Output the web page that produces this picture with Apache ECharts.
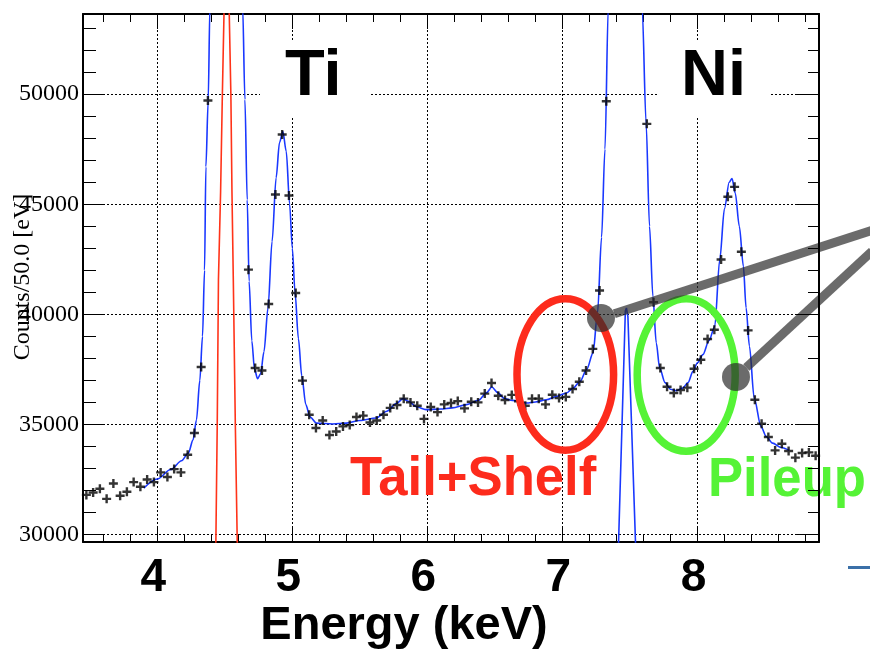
<!DOCTYPE html>
<html><head><meta charset="utf-8">
<script src="https://cdn.jsdelivr.net/npm/echarts@6/dist/echarts.min.js"></script>
<style>html,body{margin:0;padding:0;background:#fff}#c{width:870px;height:650px}</style>
</head><body><div id="c"></div>
<script>
// ---- data: 50 eV histogram bins ----
const energies = [
  3.475,3.525,3.575,3.625,3.675,3.725,3.775,3.825,3.875,3.925,3.975,
  4.025,4.075,4.125,4.175,4.225,4.275,4.325,4.375,4.425,4.475,4.525,4.575,4.625,4.675,4.725,4.775,4.825,4.875,4.925,4.975,
  5.025,5.075,5.125,5.175,5.225,5.275,5.325,5.375,5.425,5.475,5.525,5.575,5.625,5.675,5.725,5.775,5.825,5.875,5.925,5.975,
  6.025,6.075,6.125,6.175,6.225,6.275,6.325,6.375,6.425,6.475,6.525,6.575,6.625,6.675,6.725,6.775,6.825,6.875,6.925,6.975,
  7.025,7.075,7.125,7.175,7.225,7.275,7.325,7.375,7.425,7.475,7.525,7.575,7.625,7.675,7.725,7.775,7.825,7.875,7.925,7.975,
  8.025,8.075,8.125,8.175,8.225,8.275,8.325,8.375,8.425,8.475,8.525,8.575,8.625,8.675,8.725,8.775,8.825,8.875
];
const counts = [
  31800,31910,32080,31620,32320,31760,31940,32380,32170,32500,32380,
  32820,32610,32970,32820,33620,34610,37610,49710,76000,128000,152000,112000,61000,42030,37560,37450,40470,45440,48170,45400,
  40970,36990,35440,34840,35180,34520,34680,34910,34970,35340,35400,35090,35180,35440,35750,35880,36170,36000,35850,35250,
  35790,35560,35910,35970,36060,35730,36030,36000,36400,36880,36300,36110,36340,36050,35850,36170,36170,35910,36350,36200,
  36250,36610,36940,37450,38430,41080,49680,82000,135000,160000,125000,72000,48650,40550,37560,36710,36430,36560,36670,37530,
  37940,38880,39300,42490,45340,45790,42840,39270,36120,35030,34430,33820,34120,33790,33490,33700,33730,33580
];
// total fit (blue)
const fitE = [3.90,4.00,4.10,4.18,4.23,4.265,4.29,4.315,4.335,4.35,4.36,4.377,4.39,4.51,4.632,4.649,4.666,4.68,4.70,4.72,4.743,4.765,4.79,4.82,4.85,4.88,4.905,4.93,4.955,4.98,5.00,5.02,5.045,5.07,5.10,5.13,5.18,5.30,5.40,5.50,5.62,5.70,5.77,5.82,5.86,5.92,5.99,6.10,6.185,6.29,6.38,6.44,6.477,6.52,6.57,6.63,6.735,6.80,6.88,6.96,7.03,7.08,7.13,7.18,7.227,7.26,7.29,7.315,7.34,7.47,7.59,7.62,7.645,7.67,7.695,7.72,7.76,7.80,7.845,7.89,7.93,7.967,8.00,8.04,8.085,8.128,8.165,8.20,8.235,8.256,8.28,8.31,8.34,8.36,8.385,8.42,8.47,8.51,8.556,8.62,8.68];
const fitV = [32110,32520,32950,33350,33700,34300,35200,37000,39000,42000,46700,49700,54000,150000,54000,49760,45200,41500,38800,37500,37080,37300,38300,40300,43300,46200,47800,48300,47400,45000,43000,41000,38900,37200,35900,35350,35060,35020,35060,35180,35290,35600,35950,36170,36050,35800,35670,35700,35750,35900,36100,36450,36700,36450,36180,36090,35970,36020,36120,36280,36430,36650,36950,37500,38250,40060,43500,47500,54000,200000,54000,48650,44000,40820,38700,37560,36900,36600,36530,36650,36900,37410,37800,38170,38800,39450,42490,44800,46000,46170,45500,44000,42190,40300,38550,36200,34910,34450,34150,33950,33820];
// narrow component near 7.47 keV (blue)
const niCompE = [7.405,7.415,7.466,7.474,7.485,7.542,7.552];
const niCompV = [27500,29500,40150,40290,39900,29500,27500];
// Ti K-alpha component (red)
const tiCompE = [4.428,4.434,4.444,4.453,4.469,4.482,4.494,4.514,4.533,4.545,4.553,4.563,4.578,4.592,4.598];
const tiCompV = [27500,29700,35000,41570,45590,50000,53640,58000,53640,50000,45590,41570,35000,29700,27500];
// axes
const xMajorTicks = [4,5,6,7,8];
const xMinorTicks = [3.6,3.8,4.2,4.4,4.6,4.8,5.2,5.4,5.6,5.8,6.2,6.4,6.6,6.8,7.2,7.4,7.6,7.8,8.2,8.4,8.6,8.8];
const yMajorTicks = [30000,35000,40000,45000,50000];
const yMinorTicks = [31000,32000,33000,34000,36000,37000,38000,39000,41000,42000,43000,44000,46000,47000,48000,49000,51000,52000,53000];
const X_MIN = 3.45, X_MAX = 8.9, Y_MIN = 29660, Y_MAX = 53640;

const pairs = (a, b) => a.map((v, i) => [v, b[i]]);
const dotted = {show:true, lineStyle:{color:'#000', width:1, type:[2,2]}};

function xAx(pos, ticks, len, opts) {
  return Object.assign({
    type:'value', position:pos, min:X_MIN, max:X_MAX,
    axisLine:{show:false, onZero:false},
    axisTick:{show:true, inside:true, length:len, customValues:ticks, lineStyle:{color:'#000', width:1}},
    axisLabel:{show:false}, splitLine:{show:false}, minorTick:{show:false}
  }, opts || {});
}
function yAx(pos, ticks, len, opts) {
  return Object.assign({
    type:'value', position:pos, min:Y_MIN, max:Y_MAX,
    axisLine:{show:false, onZero:false},
    axisTick:{show:true, inside:true, length:len, customValues:ticks, lineStyle:{color:'#000', width:1}},
    axisLabel:{show:false}, splitLine:{show:false}, minorTick:{show:false}
  }, opts || {});
}
const frame = {show:true, onZero:false, lineStyle:{color:'#000', width:2}};

const chart = echarts.init(document.getElementById('c'), null, {renderer:'canvas'});
chart.setOption({
  backgroundColor:'#fff',
  animation:false,
  grid:{left:83, right:51, top:14, bottom:108, containLabel:false},
  xAxis:[
    xAx('bottom', xMajorTicks, 15, {axisLine:frame, splitLine:dotted,
      axisLabel:{show:true, customValues:xMajorTicks, margin:13, color:'#000', padding:[0,8,0,0],
        formatter:(v) => String(v),
        fontSize:46, fontWeight:'bold', fontFamily:'"Liberation Sans", Arial, sans-serif'}}),
    xAx('bottom', xMinorTicks, 8),
    xAx('top', xMajorTicks, 15, {axisLine:frame}),
    xAx('top', xMinorTicks, 8)
  ],
  yAxis:[
    yAx('left', yMajorTicks, 22, {axisLine:frame, splitLine:dotted,
      axisLabel:{show:true, customValues:yMajorTicks, margin:4, color:'#000',
        formatter:(v) => String(v),
        fontSize:24, fontFamily:'"Liberation Serif", "Times New Roman", serif'}}),
    yAx('left', yMinorTicks, 13),
    yAx('right', yMajorTicks, 22, {axisLine:frame, z:20}),
    yAx('right', yMinorTicks, 11, {z:20})
  ],
  series:[
    {type:'line', name:'fit', data:pairs(fitE, fitV), showSymbol:false, smooth:0.3, smoothMonotone:'x',
      lineStyle:{color:'#1a38ff', width:1.6}, z:3, clip:true, silent:true},
    {type:'line', name:'component', data:pairs(niCompE, niCompV), showSymbol:false,
      lineStyle:{color:'#1a38ff', width:1.6}, z:3, clip:true, silent:true},
    {type:'line', name:'Ti', data:pairs(tiCompE, tiCompV), showSymbol:false,
      lineStyle:{color:'#ff3319', width:1.6}, z:3, clip:true, silent:true},
    {type:'scatter', name:'data', data:pairs(energies, counts),
      symbol:'path://M3.3,0L5.7,0L5.7,3.3L9,3.3L9,5.7L5.7,5.7L5.7,9L3.3,9L3.3,5.7L0,5.7L0,3.3L3.3,3.3Z', symbolSize:9,
      itemStyle:{color:'#000'}, z:5, clip:true, silent:true}
  ],
  graphic:[
    {type:'rect', z:1, shape:{x:260, y:41, width:110, height:76}, style:{fill:'#fff'}},
    {type:'rect', z:1, shape:{x:659, y:41, width:110, height:76}, style:{fill:'#fff'}},
    {type:'text', z:1, z2:5, x:285, y:77, style:{text:'Ti', x:0, y:0, fill:'#000',
      font:'bold 65px "Liberation Sans", Arial, sans-serif', align:'left', verticalAlign:'middle'}},
    {type:'text', z:1, z2:5, x:681, y:77, style:{text:'Ni', x:0, y:0, fill:'#000',
      font:'bold 65px "Liberation Sans", Arial, sans-serif', align:'left', verticalAlign:'middle'}},
    {type:'ellipse', z:10, shape:{cx:565.3, cy:374.5, rx:48.3, ry:75.8}, style:{fill:'none', stroke:'#fd2b1c', lineWidth:7.5}},
    {type:'ellipse', z:10, shape:{cx:686.2, cy:375, rx:49, ry:76.2}, style:{fill:'none', stroke:'#55f336', lineWidth:7.5}},
    {type:'text', z:10, x:350, y:480, scaleX:0.94, style:{text:'Tail+Shelf', x:0, y:0, fill:'#fd2b1c',
      font:'bold 56px "Liberation Sans", Arial, sans-serif', align:'left', verticalAlign:'middle'}},
    {type:'text', z:10, x:708, y:481, scaleX:0.94, style:{text:'Pileup', x:0, y:0, fill:'#55f336',
      font:'bold 56px "Liberation Sans", Arial, sans-serif', align:'left', verticalAlign:'middle'}},
    {type:'line', z:11, shape:{x1:614.3, y1:313.7, x2:872, y2:230.3}, style:{stroke:'rgba(44,44,44,0.7)', lineWidth:9}},
    {type:'circle', z:11, shape:{cx:601, cy:318, r:14}, style:{fill:'rgba(44,44,44,0.7)'}},
    {type:'line', z:11, shape:{x1:746.3, y1:367.5, x2:872, y2:251.2}, style:{stroke:'rgba(44,44,44,0.7)', lineWidth:9}},
    {type:'circle', z:11, shape:{cx:736, cy:377, r:14}, style:{fill:'rgba(44,44,44,0.7)'}},
    {type:'line', z:11, shape:{x1:848, y1:567.5, x2:870, y2:567.5}, style:{stroke:'#3b70a8', lineWidth:3}},
    {type:'text', z:12, x:404, y:626, style:{text:'Energy (keV)', x:0, y:0, fill:'#000',
      font:'bold 47px "Liberation Sans", Arial, sans-serif', align:'center', verticalAlign:'middle'}},
    {type:'text', z:12, x:23, y:277, rotation:Math.PI/2, style:{text:'Counts/50.0 [eV]', x:0, y:0, fill:'#000',
      font:'24px "Liberation Serif", "Times New Roman", serif', align:'center', verticalAlign:'middle'}}
  ]
});
</script></body></html>
